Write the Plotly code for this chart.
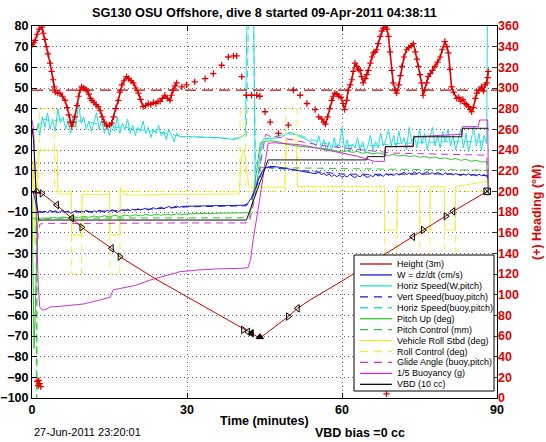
import plotly.graph_objects as go

# ---------------- data (left axis units unless noted) ----------------
height_t = [0, 1.9, 4.8, 7.7, 9.6, 15.4, 17.0, 24.0, 32.5, 40.0, 44.1, 49.6, 51.4, 53.8, 60.0, 66.0, 73.7, 75.7, 80.1, 81.5, 88.1]
height_v = [0, -1, -6.6, -13, -17.4, -27.6, -31.6, -42.5, -54.5, -65, -71, -60.6, -56.6, -52.6, -43.4, -34, -22, -18.7, -12, -9.7, 0]

turn_t = [0.9, 1.9, 4.8, 7.7, 9.6, 15.4, 17.0, 40.9, 41.8, 42.5, 44.1, 49.6, 51.4, 73.7, 75.7, 80.1, 81.5, 88.1]
turn_v = [0, -1, -6.6, -13, -17.4, -27.6, -31.6, -67, -68, -68.7, -70.5, -60.6, -56.6, -22, -18.7, -12, -9.7, 0]
turn_sym = ["triangle-up-open", "triangle-right-open", "triangle-left-open", "triangle-left-open",
            "triangle-right-open", "triangle-left-open", "triangle-right-open", "triangle-right-open",
            "triangle-left-open", "triangle-left", "triangle-up", "triangle-right-open",
            "triangle-left-open", "triangle-left-open", "triangle-right-open", "triangle-right-open",
            "triangle-left-open", "square-x-open"]

w_t = [0, 0.3, 0.6, 0.9, 1.2, 1.5, 2, 2.5, 3, 3.5, 4, 4.5, 5, 5.5, 6, 6.5, 7, 7.5, 8, 8.5, 9, 9.5, 10, 10.5,
       11, 11.5, 12, 12.5, 13, 13.5, 14, 14.5, 15, 15.5, 16, 16.5, 17, 17.5, 18, 18.5, 19, 19.5, 20, 20.5,
       21, 21.5, 22, 22.5, 23, 23.5, 24, 24.5, 25, 25.5, 26, 26.5, 27, 27.5, 28, 28.5, 29, 30, 32, 34, 36,
       38, 40, 41, 41.7, 42.5, 43.3, 44.2, 44.9, 46, 47, 48, 50, 52, 54, 55, 55.5, 56, 56.5, 57, 57.5, 58,
       58.5, 59, 59.5, 60, 60.5, 61, 61.5, 62, 62.5, 63, 63.5, 64, 64.5, 65, 65.5, 66, 66.5, 67, 67.5, 68,
       68.5, 69, 69.5, 70, 70.5, 71, 71.5, 72, 72.5, 73, 73.5, 74, 74.5, 75, 75.5, 76, 76.5, 77, 77.5, 78,
       78.5, 79, 79.5, 80, 80.5, 81, 81.5, 82, 82.5, 83, 83.5, 84, 84.5, 85, 85.5, 86, 86.5, 87, 87.5, 88, 88.3]
w_v = [0, -1, -4, -8, -10.5, -9.5, -10.2, -9.6, -10.3, -9.1, -10, -9.4, -10.4, -9.7, -9.2, -10.1, -9.5, -10.6,
       -9.8, -9.3, -10.2, -9.6, -10, -9.2, -9.8, -10.3, -9.4, -9.9, -9.1, -9.7, -10.1, -9.3, -9.6, -8.9, -9.5,
       -10.2, -9.4, -8.8, -9.3, -8.7, -9.4, -8.6, -9.1, -8.4, -9, -8.5, -8.2, -9.1, -8.3, -7.9, -8.6, -8.1,
       -7.6, -8.4, -7.9, -7.3, -8, -7.5, -7.1, -7.8, -7.3, -7.2, -7, -7, -6.9, -6.9, -6.8, -6.7, -6, -3, 2, 8,
       11, 12, 12, 11.6, 10.8, 10, 9.2, 8.5, 9.3, 8.1, 8.8, 7.6, 8.4, 7.2, 8, 7.1, 7.9, 6.8, 7.6, 7, 8.2, 7.3,
       6.6, 7.7, 7, 8.1, 7.2, 6.7, 7.8, 7.1, 8.3, 7.4, 8, 7.2, 8.6, 7.7, 8.4, 7.5, 8.8, 7.9, 8.5, 9.2, 8.1, 8.9,
       8.3, 9.4, 8.6, 9.1, 8.2, 8.8, 9.5, 8.4, 9, 8.3, 9.2, 8.5, 8, 8.9, 8.2, 8.7, 7.9, 8.6, 8.1, 7.6, 8.4, 7.8,
       8.5, 7.7, 8.2, 7.5, 8.3, 7.6, 8.1, 7.4, 6]

hs_t = [0.9, 1.2, 1.5, 2, 2.5, 3, 3.5, 4, 4.5, 5, 5.5, 6, 6.5, 7, 7.5, 8, 8.5, 9, 9.5, 10, 10.5, 11, 11.5,
        12, 12.5, 13, 13.5, 14, 14.5, 15, 15.5, 16, 16.5, 17, 17.5, 18, 18.5, 19, 19.5, 20, 20.5, 21, 21.5,
        22, 22.5, 23, 23.5, 24, 24.5, 25, 25.5, 26, 26.5, 27, 27.5, 28, 28.5, 30, 33, 36, 38, 39, 40, 41,
        41.3, 41.6, 42.9, 43.2, 43.6, 44.2, 44.8, 46, 48, 49.5, 51, 53, 54, 55, 55.5, 56, 56.5, 57, 57.5, 58,
        58.5, 59, 59.5, 60, 60.5, 61, 61.5, 62, 62.5, 63, 63.5, 64, 64.5, 65, 65.5, 66, 66.5, 67, 67.5, 68,
        68.5, 69, 69.5, 70, 70.5, 71, 71.5, 72, 72.5, 73, 73.5, 74, 74.5, 75, 75.5, 76, 76.5, 77, 77.5, 78,
        78.5, 79, 79.5, 80, 80.5, 81, 81.5, 82, 82.5, 83, 83.5, 84, 84.5, 85, 85.5, 86, 86.5, 87, 87.5, 88, 88.15]
hs_v = [29, 33, 27, 36, 31, 38, 30, 35, 29, 40, 33, 36, 30, 34, 28, 37, 31, 43, 33, 36, 30, 34, 29, 33, 38,
        30, 35, 28, 32, 27, 34, 29, 36, 28, 33, 30, 35, 28, 32, 27, 31, 29, 34, 28, 31, 26, 30, 28, 32, 27, 29,
        25, 30, 27, 24, 28, 26.5, 26.5, 26.3, 26, 25.5, 25, 25.8, 27, 28, 85, 85, 3, 5, 20, 25.5, 25.5, 26,
        28, 27.5, 25, 24, 22, 27, 21, 25, 19, 24, 20, 26, 21, 23, 31, 20, 25, 19, 23, 21, 26, 20, 24, 19, 22,
        27, 20, 24, 21, 28, 22, 25, 30, 22, 27, 21, 29, 23, 26, 20, 31, 24, 27, 21, 30, 23, 28, 20, 26, 31, 22,
        27, 21, 29, 24, 30, 22, 27, 20, 25, 30, 21, 28, 19, 26, 31, 22, 28, 20, 27, 23, 85]

vs_t = [1.2, 5, 10, 15, 20, 25, 30, 35, 41.5, 42.5, 43.5, 44.5, 45.5, 47, 49, 51, 53, 55, 57, 60, 65, 70, 75, 80, 85, 88.3]
vs_v = [-10, -10, -9.8, -9.5, -9, -8.3, -7.5, -7.2, -7, -4, 3, 9, 11.5, 11.3, 10.8, 10.3, 9.8, 9.3, 8.8, 8.4, 8.2, 8.3, 8.5, 8.4, 8, 7.5]

hb_t = [1.0, 2, 4, 6, 8, 10, 12, 14, 16, 18, 20, 22, 24, 26, 28, 30, 35, 38, 40, 41.5, 41.9, 42.9, 43.3, 44.0,
        44.6, 46, 48, 50, 52, 54, 56, 58, 60, 65, 70, 75, 80, 85, 88.1]
hb_v = [30, 35, 34, 35, 34, 34, 33, 32, 31, 31, 30, 29.5, 29, 28, 27, 26.5, 26, 25.5, 25.8, 27, 85, 85, 2, 10,
        24, 26.5, 27, 28.5, 27, 25, 23.5, 22.5, 22, 22, 23, 23.5, 24, 24, 24]

pu_t = [0, 0.2, 0.4, 0.6, 0.8, 1.1, 1.5, 2, 3, 4, 5, 6, 7, 8, 9, 10, 11, 12, 13, 14, 15, 16, 17, 18, 19, 20,
        21, 22, 23, 24, 25, 26, 27, 28, 29, 30, 34, 38, 41, 42, 42.5, 43.2, 43.8, 44.2, 46, 47.5, 49, 51, 53,
        55, 57, 59, 60, 61, 62, 63, 64, 65, 66, 67, 68, 69, 70, 71, 72, 73, 74, 75, 76, 77, 78, 79, 80, 81,
        82, 83, 84, 85, 86, 87, 88, 88.3]
pu_v = [-3, -40, -76, -60, -35, -15, -13.5, -12.8, -13.3, -12.6, -13.1, -12.4, -12.9, -12.2, -12.8, -12.1,
        -12.6, -11.9, -12.5, -11.8, -12.4, -11.6, -12.2, -11.5, -12, -11.4, -11.9, -11.2, -11.7, -11.1, -11.6,
        -11, -11.5, -10.9, -11.2, -10.9, -10.7, -10.5, -10.4, -10.3, -8, 5, 18, 23.5, 24.5, 24, 23, 22, 21.5,
        21, 20.5, 19.5, 19, 19.6, 18.8, 19.3, 18.4, 18.9, 18.1, 18.6, 17.8, 17.3, 17.9, 17, 17.6, 16.8, 17.3,
        16.5, 16.9, 16.1, 16.6, 15.8, 16.2, 15.4, 15.9, 15, 15.5, 14.6, 15, 14.2, 14.4, -2]

pc_t = [0, 0.8, 0.85, 0.95, 1.0, 42.0, 44.2, 46, 50, 55, 60, 65, 70, 75, 80, 85, 88.3]
pc_v = [-13, -13, -100, -100, -13, -12.8, 11.5, 11.5, 11.3, 11.2, 11, 10.8, 10.6, 10.5, 10.4, 10.3, 10.3]

roll_t = [0, 0.2, 0.5, 0.8, 1.2, 1.5, 4.9, 5.0, 7.6, 7.7, 9.6, 9.7, 15.0, 15.1, 17.0, 17.1, 17.4, 17.8, 20, 25,
          30, 35, 40.1, 40.6, 41.0, 41.5, 42.0, 46, 48.9, 49.3, 51.1, 51.4, 55, 60, 65, 68.2, 68.3, 70.6, 70.7,
          75.0, 75.1, 77.0, 77.1, 79.8, 79.9, 81.9, 82.0, 84, 86, 88.2]
roll_v = [0, 15, -25, -8, 15, 20, 20, -1.3, -1.3, -21, -21, -1.5, -1.5, -21, -21, 2, 0, -1.5, -1.8, -1.5, -1.6,
          -1.4, -1.3, 18, 20, 12, 2, 2, 2, 25, 25, 2.3, 2.3, 2.3, 2.3, 2.3, -18.7, -18.7, 2.3, 2.3, -18.7,
          -18.7, 2.3, 2.3, -18.7, -18.7, 2.3, 3, 4, 5]

rc_t = [1.2, 1.5, 4.3, 4.4, 7.6, 7.7, 9.6, 9.7, 15.0, 15.1, 17.0, 17.1, 40.2, 40.3, 41.3, 41.4, 49.0, 49.1,
        51.3, 51.4, 68.2, 68.3, 70.6, 70.7, 75.0, 75.1, 77.0, 77.1, 79.8, 79.9, 81.9, 82.0, 88.2]
rc_v = [0, 40, 40, 0, 0, -40, -40, 0, 0, -40, -40, 0, 0, 40, 40, 0, 0, 40, 40, 0, 0, -40, -40, 0, 0, -40,
        -40, 0, 0, -40, -40, 0, 0]

ga_t = [0.9, 1.2, 1.5, 2, 10, 20, 30, 42, 43, 44, 45.2, 46, 48, 50, 52, 54, 56, 58, 60, 62, 64, 66, 68, 70,
        75, 80, 85, 88, 88.3]
ga_v = [-35, -20, -16, -15.5, -15.5, -15.3, -15.3, -15.3, -5, 10, 27.5, 27, 26, 25, 24, 23, 22.2, 21.6, 21,
        20.5, 20, 19.5, 19, 18.5, 18.2, 18, 17.8, 17.5, 5]

bu_t = [0, 0.3, 0.6, 0.9, 1.2, 1.5, 2.0, 2.8, 3.5, 6, 10, 13.2, 15.1, 15.7, 17, 20, 22.8, 25, 28.6, 32.5,
        36, 40, 41.8, 42.3, 42.8, 44, 45, 45.7, 47, 50, 52, 55, 60.2, 63, 66.3, 68.2, 68.4, 71, 73.7, 73.9,
        77, 80, 83.1, 83.3, 86.4, 86.6, 88.2, 88.35]
bu_v = [34.5, 30, 10, -20, -45, -56, -57.5, -57, -56, -55.5, -54.5, -52.5, -51.3, -47.7, -47, -45.5, -43,
        -41.5, -38.9, -38, -37.5, -37.3, -37, -33, -23.5, -5, 12, 23.3, 23.5, 23, 22.5, 21, 18.5, 17, 14.5,
        14.5, 21.6, 21.8, 22, 26.4, 26.8, 27.2, 27.6, 31.3, 31.3, 34.5, 34.5, 0]

vbd_t = [0, 0.3, 0.6, 0.9, 1.3, 41.5, 45.7, 64.8, 64.9, 68.3, 68.4, 73.8, 73.9, 83.2, 83.3, 88.3]
vbd_v = [30.5, 25, 10, -5, -13.9, -13.9, 15.2, 15.2, 16.8, 16.8, 21.6, 21.6, 26.4, 26.4, 30.5, 30.5]

wref_t = [0, 66]
wref_v = [13.7, 13.7]

# heading (right axis, degrees)
hd1_t = [0, 0.3, 0.6, 1.0, 1.4, 1.9, 2.2, 2.5, 2.8, 3.1, 3.5, 3.8, 4.1, 4.3, 4.5, 5.0, 5.4, 5.9, 6.4, 6.8,
         7.1, 7.4, 7.7, 8.0, 8.3, 8.7, 9.0, 9.3, 9.6, 10.0, 10.3, 10.6, 11.0, 11.3, 11.6, 12.0, 12.4, 12.8,
         13.2, 13.6, 14.0, 14.5, 15.0, 15.4, 15.8, 16.2, 16.7, 17.0, 17.4, 17.8, 18.3, 18.7, 19.2, 19.6,
         20.1, 20.6, 21.0, 21.5, 22.0, 22.5, 23.0, 23.5, 24.0, 24.4, 24.8, 25.2, 25.7, 26.2, 26.7, 27.0,
         27.3, 27.7, 28.0]
hd1_v = [342, 344, 346, 352, 357, 359, 353, 347, 340, 333, 324, 316, 308, 301, 296, 295, 295, 292, 288, 281,
         274, 267, 263, 267, 272, 283, 292, 298, 301, 300, 299, 298, 294, 290, 288, 286, 284, 282, 278, 272,
         267, 263, 264, 266, 272, 280, 288, 296, 303, 307, 311, 309, 307, 305, 300, 295, 289, 282, 283, 285,
         284, 286, 285, 287, 287, 290, 293, 290, 288, 293, 298, 302, 305]
hds_t = [29.0, 29.9, 31.5, 33.5, 35.1, 36.7, 38.0, 39.0, 39.6, 40.6, 41.5, 42.5, 43.5, 44.1, 45.1, 46.1,
         47.7, 49.6, 50.6, 51.9, 53.2, 54.8, 1.0, 1.2, 1.3, 1.5, 1.7, 68.6]
hds_v = [301, 303, 306, 309, 314, 322, 330, 331, 331, 311, 293, 293, 293, 292, 277, 267, 256, 264, 298, 293,
         285, 279, 16, 12, 17, 14, 11, 4]
hd2_t = [55.5, 56.1, 56.5, 56.8, 57.2, 57.6, 58.0, 58.3, 58.6, 59.0, 59.4, 59.8, 60.2, 60.5, 60.9, 61.2,
         61.6, 61.9, 62.2, 62.5, 62.9, 63.2, 63.5, 63.8, 64.1, 64.5, 64.8, 65.1, 65.5, 65.8, 66.1, 66.4,
         66.7, 67.0, 67.4, 67.7, 68.0, 68.4, 68.7, 69.0, 69.3, 69.6, 69.9, 70.3, 70.6, 71.0, 71.3, 71.6,
         72.0, 72.5, 72.9, 73.4, 73.8, 74.2, 74.5, 74.8, 75.1, 75.4, 75.7, 76.0, 76.4, 76.7, 77.1, 77.5,
         78.0, 78.5, 79.0, 79.4, 79.9, 80.3, 80.6, 80.9, 81.2, 81.6, 82.2, 82.6, 83.0, 83.4, 83.8, 84.1,
         84.5, 84.8, 85.1, 85.4, 85.8, 86.1, 86.5, 87.0, 87.4, 87.7, 88.0, 88.2, 88.3]
hd2_v = [272, 270, 267, 265, 272, 280, 288, 292, 295, 294, 292, 291, 285, 279, 288, 298, 303, 308, 316, 324,
         321, 318, 317, 311, 305, 309, 313, 317, 324, 330, 334, 335, 337, 343, 350, 355, 358, 359, 357, 350,
         335, 317, 305, 298, 295, 303, 312, 321, 330, 337, 339, 341, 343, 335, 328, 321, 313, 305, 293, 298,
         305, 311, 314, 317, 321, 325, 330, 337, 345, 340, 334, 318, 301, 296, 290, 291, 287, 289, 285, 284,
         282, 279, 277, 281, 290, 295, 298, 301, 297, 303, 305, 310, 316]
hd_mean_t = [0, 90]
hd_mean_v = [298, 298]

x_ticks = [0, 30, 60, 90]
legend_labels = ["Height (3m)", "W = dz/dt (cm/s)", "Horiz Speed(W,pitch)", "Vert Speed(buoy,pitch)",
                 "Horiz Speed(buoy,pitch)", "Pitch Up (deg)", "Pitch Control (mm)", "Vehicle Roll Stbd (deg)",
                 "Roll Control (deg)", "Glide Angle (buoy,pitch)", "1/5 Buoyancy (g)", "VBD (10 cc)"]
title_text = "SG130 OSU Offshore, dive 8 started 09-Apr-2011 04:38:11"

# ---------------- styles ----------------
RED = "#c80000"
HRED = "#e00000"
BLUE = "#1a1acc"
CYAN = "#22dddd"
GREEN = "#2ec82e"
YEL = "#f0f03a"
MAG = "#d030d0"
BLK = "#111111"
DASH = "7px,5px"
FONT = "Liberation Sans, Arial, Helvetica, sans-serif"

series = [
    (height_t, height_v, RED, "solid"),
    (w_t, w_v, BLUE, "solid"),
    (hs_t, hs_v, CYAN, "solid"),
    (vs_t, vs_v, BLUE, DASH),
    (hb_t, hb_v, CYAN, DASH),
    (pu_t, pu_v, GREEN, "solid"),
    (pc_t, pc_v, GREEN, DASH),
    (roll_t, roll_v, YEL, "solid"),
    (rc_t, rc_v, YEL, DASH),
    (ga_t, ga_v, MAG, DASH),
    (bu_t, bu_v, MAG, "solid"),
    (vbd_t, vbd_v, BLK, "solid"),
]

fig = go.Figure()
draw_order = [2, 4, 7, 8, 5, 6, 9, 10, 1, 3, 11, 0]
for i in draw_order:
    t, v, c, d = series[i]
    fig.add_trace(go.Scatter(x=t, y=v, mode="lines", line=dict(color=c, width=1, dash=d),
                             showlegend=False, hoverinfo="skip"))

fig.add_trace(go.Scatter(x=wref_t, y=wref_v, mode="lines", line=dict(color=BLUE, width=1, dash="1px,3px"),
                         showlegend=False, hoverinfo="skip"))

fig.add_trace(go.Scatter(x=turn_t, y=turn_v, mode="markers",
                         marker=dict(symbol=turn_sym, size=6.5, color="black", line=dict(color="black", width=1)),
                         showlegend=False, hoverinfo="skip"))

# heading on right axis
fig.add_trace(go.Scatter(x=hd_mean_t, y=hd_mean_v, yaxis="y2", mode="lines",
                         line=dict(color=RED, width=1.3, dash="11px,6px"), showlegend=False, hoverinfo="skip"))
for ht, hv in [(hd1_t, hd1_v), (hd2_t, hd2_v)]:
    fig.add_trace(go.Scatter(x=ht, y=hv, yaxis="y2", mode="lines+markers",
                             line=dict(color=HRED, width=1.6),
                             marker=dict(symbol="cross-thin", size=4.5, line=dict(color=HRED, width=1.2)),
                             showlegend=False, hoverinfo="skip"))
fig.add_trace(go.Scatter(x=hds_t, y=hds_v, yaxis="y2", mode="markers",
                         marker=dict(symbol="cross-thin", size=4.5, line=dict(color=HRED, width=1.3)),
                         showlegend=False, hoverinfo="skip"))

# ---------------- layout ----------------
PL, PR, PT, PB = 32, 497, 26, 398
W, H = 546, 442


def px_x(px):
    return (px - PL) / (PR - PL)


def px_y(py):
    return (PB - py) / (PB - PT)


tickfont = dict(family=FONT, size=12.5, color="black", weight="bold")
fig.update_layout(
    width=W, height=H,
    margin=dict(l=PL, r=W - PR, t=PT, b=H - PB, pad=0),
    paper_bgcolor="white", plot_bgcolor="white",
    showlegend=False,
    font=dict(family=FONT, size=12.5, color="black"),
    xaxis=dict(range=[0, 90], tickvals=x_ticks, ticks="inside", ticklen=5, tickcolor="black",
               showline=True, linecolor="black", linewidth=1, mirror="ticks", automargin=False,
               showgrid=True, gridcolor="#666666", griddash="1px,3px", gridwidth=1, zeroline=False,
               tickfont=tickfont),
    yaxis=dict(range=[-100, 80], dtick=10, ticks="inside", ticklen=5, tickcolor="black",
               showline=True, linecolor="black", linewidth=1, mirror=True, automargin=False,
               showgrid=True, gridcolor="#666666", griddash="1px,3px", gridwidth=1, zeroline=False,
               tickfont=tickfont),
    yaxis2=dict(range=[0, 360], dtick=20, overlaying="y", side="right", ticks="inside", ticklen=5,
                tickcolor="#333333", showgrid=False, zeroline=False, showline=False, automargin=False,
                tickfont=dict(family=FONT, size=12.5, color=HRED, weight="bold")),
)

ann = []
ann.append(dict(text=title_text, x=0.5, y=px_y(13), xref="paper", yref="paper", showarrow=False,
                xanchor="center", yanchor="middle", font=dict(family=FONT, size=12.7, weight="bold")))
ann.append(dict(text="Time (minutes)", x=0.5, y=px_y(420.7), xref="paper", yref="paper", showarrow=False,
                xanchor="center", yanchor="middle", font=dict(family=FONT, size=12.5, weight="bold")))
ann.append(dict(text="VBD bias =0 cc", x=px_x(313), y=px_y(433.3), xref="paper", yref="paper",
                showarrow=False, xanchor="left", yanchor="middle",
                font=dict(family=FONT, size=12.5, weight="bold")))
ann.append(dict(text="27-Jun-2011 23:20:01", x=px_x(31.5), y=px_y(432.3), xref="paper", yref="paper",
                showarrow=False, xanchor="left", yanchor="middle", font=dict(family=FONT, size=11)))
ann.append(dict(text="(+) Heading (°M)", x=px_x(537), y=0.5, xref="paper", yref="paper", showarrow=False,
                textangle=-90, xanchor="center", yanchor="middle",
                font=dict(family=FONT, size=12.5, color=HRED, weight="bold")))

# legend box (drawn manually to match compact row spacing)
shapes = []
LX0, LX1, LY0, LY1 = 354, 494, 255, 391
shapes.append(dict(type="rect", xref="paper", yref="paper", x0=px_x(LX0), x1=px_x(LX1),
                   y0=px_y(LY1), y1=px_y(LY0), line=dict(color="black", width=1), fillcolor="white",
                   layer="above"))
row0, drow = 264.0, 10.94
for k, (lab, s) in enumerate(zip(legend_labels, series)):
    yy = row0 + k * drow
    _, _, c, d = s
    shapes.append(dict(type="line", xref="paper", yref="paper", x0=px_x(360), x1=px_x(392),
                       y0=px_y(yy), y1=px_y(yy), layer="above",
                       line=dict(color=c, width=1.3, dash=("8px,6px" if d != "solid" else "solid"))))
    ann.append(dict(text=lab, x=px_x(394.5), y=px_y(yy), xref="paper", yref="paper", showarrow=False,
                    xanchor="left", yanchor="middle", font=dict(family=FONT, size=9, color="black")))

fig.update_layout(annotations=ann, shapes=shapes)
fig.write_html("out.html", config={"displayModeBar": False, "staticPlot": True},
               post_script="document.body.style.margin='0';document.body.style.overflow='hidden';")
